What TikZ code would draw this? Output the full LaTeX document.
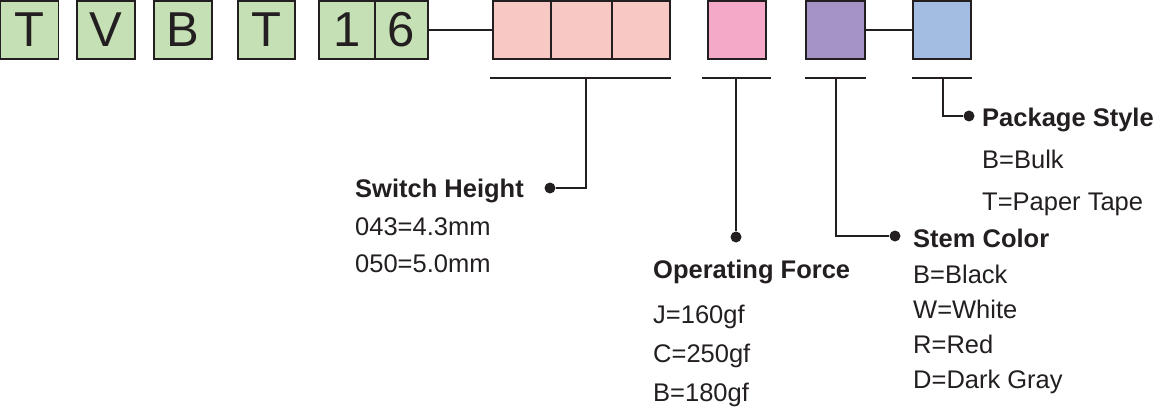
\documentclass[tikz,border=0pt]{standalone}
\usepackage{fontspec}
\setmainfont{Liberation Sans}
\definecolor{ink}{HTML}{231F20}
\definecolor{cgreen}{HTML}{C5E0B4}
\definecolor{csalmon}{HTML}{F8C8C4}
\definecolor{cpink}{HTML}{F4A9C8}
\definecolor{cpurple}{HTML}{A593C6}
\definecolor{cblue}{HTML}{A3BDE2}
\begin{document}
\begin{tikzpicture}[x=1pt,y=-1pt,
  cell/.style={draw=ink,line width=1.6pt,inner sep=0pt,minimum height=58pt,anchor=center},
  letter/.style={cell,fill=cgreen,text=ink,font=\fontsize{49}{49}\selectfont},
  lead/.style={draw=ink,line width=1.6pt},
  dotnode/.style={circle,fill=ink,inner sep=0pt,minimum size=11pt},
  head/.style={anchor=base west,inner sep=0pt,text=ink,font=\bfseries\fontsize{25.5}{26}\selectfont},
  item/.style={anchor=base west,inner sep=0pt,text=ink,font=\fontsize{25.5}{26}\selectfont}]
\useasboundingbox (0,0) rectangle (1156,409);

% green letter boxes
\node[letter,minimum width=58pt] (t1) at (29.5,30) {T};
\node[letter,minimum width=58pt] (v) at (106,30) {V};
\node[letter,minimum width=58pt] (b) at (183,30) {B};
\node[letter,minimum width=57pt] (t2) at (266.5,30) {T};
\node[letter,minimum width=56pt] (n1) at (347,30) {1};
\node[letter,minimum width=53pt] (n6) at (401.5,30) {6};

% coloured boxes
\node[cell,fill=csalmon,minimum width=58pt] (p1) at (522,30) {};
\node[cell,fill=csalmon,minimum width=61pt] (p2) at (581.5,30) {};
\node[cell,fill=csalmon,minimum width=58pt] (p3) at (641,30) {};
\node[cell,fill=cpink,minimum width=58pt] (f) at (737,30) {};
\node[cell,fill=cpurple,minimum width=59pt] (s) at (835.5,30) {};
\node[cell,fill=cblue,minimum width=58pt] (k) at (942,30) {};

\draw[lead] (n6.east) -- (p1.west);
\draw[lead] (s.east) -- (k.west);

% underlines
\coordinate (u1a) at (490,78); \coordinate (u1b) at (671,78); \coordinate (u1m) at (586,78);
\coordinate (u2a) at (702,78); \coordinate (u2b) at (771,78); \coordinate (u2m) at (736,78);
\coordinate (u3a) at (805,78); \coordinate (u3b) at (866,78); \coordinate (u3m) at (836,78);
\coordinate (u4a) at (912,78); \coordinate (u4b) at (972,78); \coordinate (u4m) at (943,78);
\draw[lead] (u1a) -- (u1b);
\draw[lead] (u2a) -- (u2b);
\draw[lead] (u3a) -- (u3b);
\draw[lead] (u4a) -- (u4b);

% dots
\node[dotnode] (dsw) at (550,188) {};
\node[dotnode] (dof) at (736,237) {};
\node[dotnode] (dst) at (895,236) {};
\node[dotnode] (dps) at (969,116) {};

\draw[lead] (u1m) |- (dsw);
\draw[lead] (u2m) -- (dof);
\draw[lead] (u3m) |- (dst);
\draw[lead] (u4m) |- (dps);

% texts
\node[head] (hsw) at (355,197) {Switch Height};
\node[item] (sw1) at (355,235) {043=4.3mm};
\node[item] (sw2) at (355,272) {050=5.0mm};

\node[head] (hof) at (653,278) {Operating Force};
\node[item] (of1) at (653,323) {J=160gf};
\node[item] (of2) at (653,362) {C=250gf};
\node[item] (of3) at (653,401) {B=180gf};

\node[head] (hst) at (913,247) {Stem Color};
\node[item] (st1) at (913,283) {B=Black};
\node[item] (st2) at (913,318) {W=White};
\node[item] (st3) at (913,353) {R=Red};
\node[item] (st4) at (913,388) {D=Dark Gray};

\node[head] (hps) at (982,127) {Package Style};
\node[item] (ps1) at (982,168) {B=Bulk};
\node[item] (ps2) at (982,210) {T=Paper Tape};
\end{tikzpicture}
\end{document}
